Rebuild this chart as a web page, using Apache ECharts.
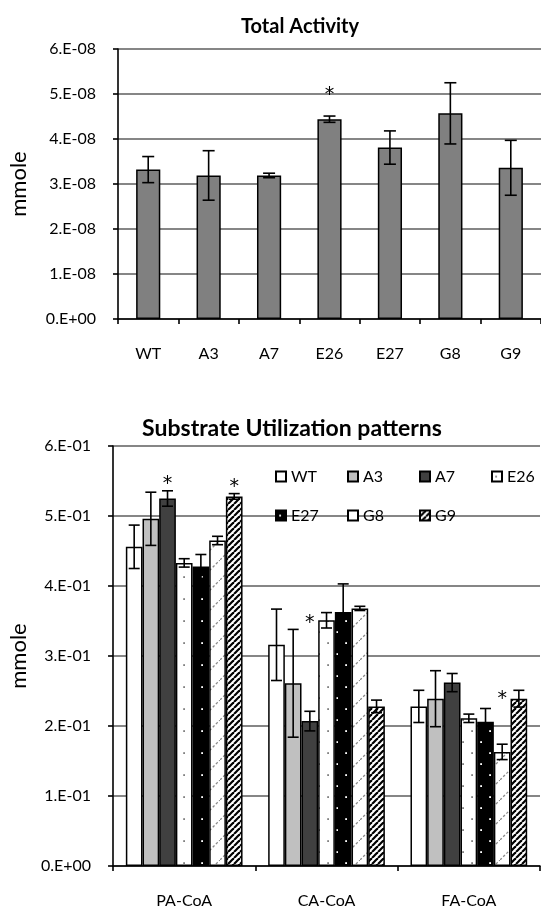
<!DOCTYPE html>
<html>
<head>
<meta charset="utf-8">
<script src="https://cdn.jsdelivr.net/npm/echarts@6/dist/echarts.min.js"></script>
<style>
  html, body { margin: 0; padding: 0; background: #fff; }
  #chart { width: 541px; height: 910px; }
</style>
</head>
<body>
<div id="chart"></div>
<script>
// ---- Total activity per strain ----
const strains = ['WT', 'A3', 'A7', 'E26', 'E27', 'G8', 'G9'];
const activityMean = [3.32e-8, 3.19e-8, 3.19e-8, 4.44e-8, 3.81e-8, 4.57e-8, 3.36e-8];
const activityErr  = [0.29e-8, 0.55e-8, 0.05e-8, 0.07e-8, 0.37e-8, 0.68e-8, 0.61e-8];
const activityStar = [null, null, null, 5.09e-8, null, null, null];
const activityTicks = ['0.E+00', '1.E-08', '2.E-08', '3.E-08', '4.E-08', '5.E-08', '6.E-08'];

// ---- Substrate utilization per strain (PA-CoA, CA-CoA, FA-CoA) ----
const substrates = ['PA-CoA', 'CA-CoA', 'FA-CoA'];
const meanWT  = [0.456, 0.316, 0.228];
const meanA3  = [0.496, 0.261, 0.239];
const meanA7  = [0.525, 0.207, 0.262];
const meanE26 = [0.433, 0.351, 0.211];
const meanE27 = [0.428, 0.363, 0.206];
const meanG8  = [0.465, 0.368, 0.163];
const meanG9  = [0.528, 0.228, 0.239];
const errWT  = [0.031, 0.051, 0.023];
const errA3  = [0.038, 0.077, 0.040];
const errA7  = [0.011, 0.014, 0.013];
const errE26 = [0.006, 0.011, 0.006];
const errE27 = [0.017, 0.040, 0.019];
const errG8  = [0.006, 0.003, 0.011];
const errG9  = [0.004, 0.009, 0.012];
const starA7 = [0.553, 0.354, null];
const starG8 = [null, null, 0.245];
const starG9 = [0.548, null, null];
const utilTicks = ['0.E+00', '1.E-01', '2.E-01', '3.E-01', '4.E-01', '5.E-01', '6.E-01'];

const utilMeans = [meanWT, meanA3, meanA7, meanE26, meanE27, meanG8, meanG9];
const utilErrs  = [errWT, errA3, errA7, errE26, errE27, errG8, errG9];
const utilStars = [null, null, starA7, null, null, starG8, starG9];

const FONT = 'Lato';
const STAR_SIZE = 19;

// Tiled fills for the patterned bars
function tile(w, h, draw) {
  const c = document.createElement('canvas');
  c.width = w; c.height = h;
  draw(c.getContext('2d'), w, h);
  return { image: c, repeat: 'repeat' };
}
function dots(bg, fg) {
  return tile(18, 22, (g, w, h) => {
    g.fillStyle = bg; g.fillRect(0, 0, w, h);
    g.fillStyle = fg;
    g.fillRect(3.2, 4.2, 1.8, 1.8);
    g.fillRect(12.2, 15.2, 1.8, 1.8);
  });
}
const lightDiag = tile(20, 20, (g, w, h) => {
  g.fillStyle = '#fff'; g.fillRect(0, 0, w, h);
  g.strokeStyle = '#8a8a8a'; g.lineWidth = 1.3; g.setLineDash([2.5, 2]);
  g.beginPath(); g.moveTo(0, h); g.lineTo(w, 0); g.stroke();
});
const darkDiag = tile(6, 6, (g, w, h) => {
  g.fillStyle = '#fff'; g.fillRect(0, 0, w, h);
  g.strokeStyle = '#000'; g.lineWidth = 2.2;
  for (const x0 of [-6, 0, 6]) {
    g.beginPath(); g.moveTo(x0, h); g.lineTo(x0 + w, 0); g.stroke();
  }
});
const strainFills = ['#ffffff', '#c0c0c0', '#404040', dots('#ffffff', '#808080'), dots('#000000', '#ffffff'), lightDiag, darkDiag];

const TOP_GAP = 0.60;     // barCategoryGap, total activity
const BOT_GAP = 0.18;     // barCategoryGap, substrate groups
const N = strains.length;

function errorShape(cx, yTop, yBot, cap) {
  const st = { stroke: '#000', lineWidth: 1.6 };
  return [
    { type: 'line', shape: { x1: cx, y1: yTop, x2: cx, y2: yBot }, style: st },
    { type: 'line', shape: { x1: cx - cap, y1: yTop, x2: cx + cap, y2: yTop }, style: st },
    { type: 'line', shape: { x1: cx - cap, y1: yBot, x2: cx + cap, y2: yBot }, style: st }
  ];
}
// the asterisk glyph sits high in its line box, so nudge it down to centre it on y
function starShape(cx, y) {
  return { type: 'text', style: { text: '*', x: cx, y: y + STAR_SIZE * 0.25, align: 'center', verticalAlign: 'middle',
           font: STAR_SIZE + 'px "DejaVu Sans"', fill: '#000' } };
}

const series = [];

// Total activity bars
series.push({
  type: 'bar', name: 'Total Activity', xAxisIndex: 0, yAxisIndex: 0,
  data: activityMean, barCategoryGap: (TOP_GAP * 100) + '%',
  itemStyle: { color: '#808080', borderColor: '#000', borderWidth: 1.5 },
  silent: true
});
series.push({
  type: 'custom', name: 'activity-error', xAxisIndex: 0, yAxisIndex: 0, silent: true, z: 5,
  data: strains.map((s, i) => [i, activityMean[i], activityErr[i], activityStar[i] == null ? NaN : activityStar[i]]),
  encode: { x: 0, y: 1 },
  renderItem: (params, api) => {
    const i = api.value(0), m = api.value(1), e = api.value(2), s = api.value(3);
    const cx = api.coord([i, m])[0];
    const children = errorShape(cx, api.coord([i, m + e])[1], api.coord([i, m - e])[1], 6);
    if (!isNaN(s)) children.push(starShape(cx, api.coord([i, s])[1]));
    return { type: 'group', children };
  }
});

// Substrate utilization grouped bars
strains.forEach((s, k) => {
  series.push({
    type: 'bar', name: s, xAxisIndex: 1, yAxisIndex: 1,
    data: utilMeans[k], barGap: '0%', barCategoryGap: (BOT_GAP * 100) + '%',
    itemStyle: { color: strainFills[k], borderColor: '#000', borderWidth: 1.5 },
    silent: true
  });
});
strains.forEach((s, k) => {
  const stars = utilStars[k];
  series.push({
    type: 'custom', name: s + '-error', xAxisIndex: 1, yAxisIndex: 1, silent: true, z: 5,
    data: substrates.map((c, j) => [j, utilMeans[k][j], utilErrs[k][j], stars && stars[j] != null ? stars[j] : NaN]),
    encode: { x: 0, y: 1 },
    renderItem: (params, api) => {
      const j = api.value(0), m = api.value(1), e = api.value(2), st = api.value(3);
      const band = api.size([1, 0])[0];
      const bw = band * (1 - BOT_GAP) / N;
      const cx = api.coord([j, 0])[0] - band * (1 - BOT_GAP) / 2 + (k + 0.5) * bw;
      const children = errorShape(cx, api.coord([j, m + e])[1], api.coord([j, m - e])[1], 5.5);
      if (!isNaN(st)) children.push(starShape(cx, api.coord([j, st])[1]));
      return { type: 'group', children };
    }
  });
});

const tickText = { fontFamily: FONT, fontSize: 16, color: '#000' };
const catText = { fontFamily: FONT, fontSize: 16, color: '#000' };
const axisLineStyle = { color: '#000', width: 1.6 };
const gridLineStyle = { color: '#868686', width: 2 };

const option = {
  animation: false,
  backgroundColor: '#fff',
  title: [
    { text: 'Total Activity', left: 295, top: 12, textAlign: 'center',
      textStyle: { fontFamily: FONT, fontWeight: 'bold', fontSize: 20, color: '#000' } },
    { text: 'Substrate Utilization patterns', left: 287, top: 412, textAlign: 'center',
      textStyle: { fontFamily: FONT, fontWeight: 'bold', fontSize: 23, color: '#000' } }
  ],
  legend: {
    data: strains, left: 270, top: 461, width: 272,
    icon: 'rect', itemWidth: 10, itemHeight: 10, itemGap: 18,
    textStyle: { fontFamily: FONT, fontSize: 16, color: '#000', width: 38, height: 21, lineHeight: 21 },
    selectedMode: false
  },
  grid: [
    { left: 116, right: 0, top: 49, height: 270 },
    { left: 110, right: 1, top: 446, height: 420 }
  ],
  xAxis: [
    { type: 'category', gridIndex: 0, data: strains,
      axisLine: { lineStyle: axisLineStyle },
      axisTick: { show: true, length: 5, lineStyle: axisLineStyle },
      axisLabel: Object.assign({ margin: 27 }, catText) },
    { type: 'category', gridIndex: 1, data: substrates,
      axisLine: { lineStyle: axisLineStyle },
      axisTick: { show: true, length: 5, lineStyle: axisLineStyle },
      axisLabel: Object.assign({ margin: 27 }, catText) }
  ],
  yAxis: [
    { type: 'value', gridIndex: 0, min: 0, max: 6e-8, interval: 1e-8,
      name: 'mmole', nameLocation: 'middle', nameGap: 88, nameRotate: 90,
      nameTextStyle: { fontFamily: FONT, fontSize: 22, color: '#000' },
      axisLine: { show: true, lineStyle: axisLineStyle },
      axisTick: { show: true, length: 5, lineStyle: axisLineStyle },
      splitLine: { lineStyle: gridLineStyle },
      axisLabel: Object.assign({ margin: 22, formatter: v => activityTicks[Math.round(v / 1e-8)] }, tickText) },
    { type: 'value', gridIndex: 1, min: 0, max: 0.6, interval: 0.1,
      name: 'mmole', nameLocation: 'middle', nameGap: 82, nameRotate: 90,
      nameTextStyle: { fontFamily: FONT, fontSize: 22, color: '#000' },
      axisLine: { show: true, lineStyle: axisLineStyle },
      axisTick: { show: true, length: 5, lineStyle: axisLineStyle },
      splitLine: { lineStyle: gridLineStyle },
      axisLabel: Object.assign({ margin: 22, formatter: v => utilTicks[Math.round(v * 10)] }, tickText) }
  ],
  series
};

const chart = echarts.init(document.getElementById('chart'), null, { renderer: 'canvas' });
chart.setOption(option);
</script>
</body>
</html>
